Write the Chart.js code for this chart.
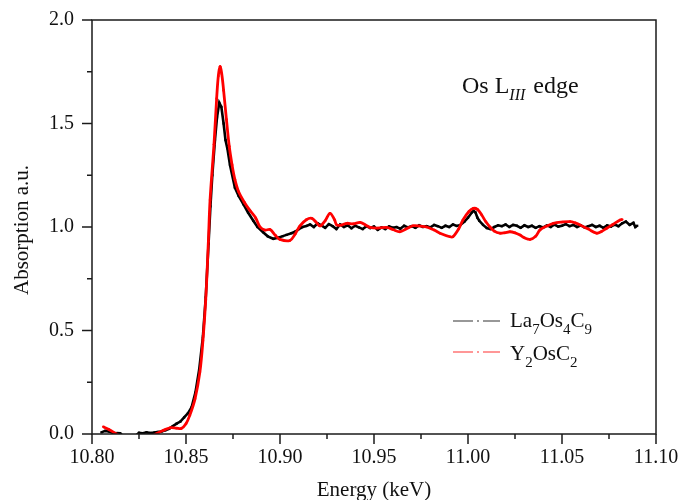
<!DOCTYPE html>
<html><head><meta charset="utf-8">
<script src="https://cdn.jsdelivr.net/npm/chart.js@4.4.1/dist/chart.umd.min.js"></script>
<style>html,body{margin:0;padding:0;background:#fff}canvas{display:block}</style>
</head><body>
<canvas id="c" width="678" height="500"></canvas>
<script>
// ---- data ----
const seriesNames = ["La7Os4C9", "Y2OsC2"];
const xTickValues = [10.80, 10.85, 10.90, 10.95, 11.00, 11.05, 11.10];
const yTickValues = [0.0, 0.5, 1.0, 1.5, 2.0];

const energyLa = [10.805,10.807,10.809,10.811,10.813,10.815,10.8165,10.823,10.825,10.827,10.829,10.831,10.833,10.835,10.837,10.839,10.841,10.843,10.845,10.847,10.849,10.851,10.853,10.855,10.857,10.859,10.8605,10.862,10.863,10.864,10.8654,10.8665,10.8677,10.8688,10.870,10.871,10.872,10.8734,10.876,10.878,10.8805,10.883,10.8858,10.888,10.891,10.8935,10.8964,10.899,10.9015,10.9035,10.906,10.908,10.910,10.912,
10.914,10.916,10.918,10.920,10.922,10.924,10.926,10.928,10.930,10.932,10.934,10.936,10.938,10.940,10.942,10.944,10.946,10.948,10.950,10.952,10.954,10.956,10.958,10.960,10.962,10.964,10.966,10.968,10.970,10.972,10.974,10.976,10.978,10.980,10.982,10.984,10.986,10.988,10.990,10.992,10.994,10.996,10.998,11.000,11.002,11.003,11.004,11.005,11.006,11.008,11.010,11.012,11.014,11.016,11.018,11.020,11.022,11.024,11.026,11.028,11.030,11.032,11.034,11.036,11.038,11.040,11.042,11.044,11.046,11.048,11.050,11.052,11.054,11.056,11.058,11.060,11.062,11.064,11.066,11.068,11.070,11.072,11.074,11.076,11.078,11.080,11.082,11.084,11.086,11.088,11.089,11.090];
const absLa = [0.008,0.015,0.012,0.006,0.004,0.003,-0.01,-0.01,0.006,0.004,0.008,0.005,0.007,0.010,0.012,0.018,0.025,0.038,0.050,0.060,0.080,0.100,0.130,0.200,0.310,0.470,0.660,0.920,1.100,1.250,1.420,1.530,1.600,1.580,1.500,1.420,1.380,1.300,1.190,1.150,1.110,1.070,1.030,1.000,0.975,0.955,0.943,0.948,0.956,0.962,0.970,0.977,0.990,1.000,
1.005,1.012,1.000,1.018,1.008,0.996,1.014,1.004,0.990,1.012,1.000,1.008,0.994,1.006,0.998,0.990,1.004,0.995,1.002,0.986,0.998,0.990,1.003,0.996,1.000,0.992,1.006,0.998,1.004,0.996,1.008,1.000,1.004,0.998,1.010,1.004,0.996,1.006,1.000,1.012,1.005,1.010,1.025,1.045,1.070,1.078,1.070,1.045,1.030,1.010,0.995,0.990,1.000,1.008,1.004,1.012,1.000,1.010,1.006,0.996,1.008,1.000,1.006,0.996,1.004,0.998,1.008,1.000,1.012,1.002,1.006,1.014,1.004,1.010,1.000,1.008,0.998,1.004,1.010,1.000,1.006,0.996,1.008,1.002,1.012,1.004,1.018,1.026,1.010,1.020,1.000,1.006];

const energyY = [10.806,10.809,10.813,10.818,10.824,10.829,10.834,10.838,10.8415,10.845,10.8475,10.850,10.852,10.8548,10.8574,10.859,10.8605,10.8619,10.8628,10.8649,10.8663,10.8672,10.8681,10.869,10.870,10.8715,10.873,10.8745,10.876,10.878,10.881,10.884,10.887,10.8894,10.892,10.8947,10.8975,10.900,10.9053,10.908,10.9106,10.914,10.9169,10.919,10.9213,10.924,10.9266,10.929,10.9302,10.933,10.9355,10.939,10.9426,10.9455,10.9479,10.952,10.9568,10.960,10.9638,10.967,10.9707,10.974,10.978,10.982,10.9851,10.9904,10.992,10.995,10.9973,11.0005,11.0028,11.005,11.0073,11.0095,11.0117,11.014,11.017,11.0195,11.0223,11.025,11.0277,11.030,11.033,11.036,11.0383,11.042,11.0454,11.050,11.0543,11.057,11.0596,11.064,11.0684,11.071,11.0738,11.077,11.0809,11.082];
const absY = [0.035,0.022,0.000,-0.025,-0.035,-0.025,0.000,0.018,0.030,0.028,0.027,0.050,0.090,0.170,0.300,0.450,0.650,0.930,1.130,1.400,1.620,1.730,1.775,1.740,1.660,1.520,1.390,1.300,1.230,1.170,1.120,1.080,1.045,1.000,0.985,0.988,0.960,0.940,0.935,0.965,1.005,1.035,1.042,1.025,1.005,1.030,1.066,1.035,1.010,1.010,1.018,1.015,1.022,1.010,0.998,0.995,0.998,0.988,0.977,0.990,1.006,1.005,1.000,0.985,0.970,0.953,0.953,0.990,1.034,1.075,1.090,1.085,1.058,1.025,1.000,0.980,0.970,0.972,0.977,0.972,0.961,0.948,0.940,0.955,0.986,1.005,1.018,1.024,1.026,1.020,1.010,0.990,0.970,0.978,0.994,1.012,1.034,1.036];

const SERIF = '"Liberation Serif", "DejaVu Serif", serif';

const decor = {
  id: 'decor',
  afterDraw(chart) {
    const ctx = chart.ctx, a = chart.chartArea;
    const xs = chart.scales.x, ys = chart.scales.y;
    ctx.save();
    ctx.strokeStyle = '#1a1a1a';
    ctx.lineWidth = 1.5;
    // frame
    ctx.strokeRect(a.left, a.top, a.right - a.left, a.bottom - a.top);
    // x ticks (major + minor), outward
    for (let i = 0; i <= 12; i++) {
      const v = 10.80 + i * 0.025;
      const px = xs.getPixelForValue(v);
      const len = (i % 2 === 0) ? 10 : 5;
      ctx.beginPath(); ctx.moveTo(px, a.bottom); ctx.lineTo(px, a.bottom + len); ctx.stroke();
    }
    // y ticks
    for (let i = 0; i <= 8; i++) {
      const v = i * 0.25;
      const py = ys.getPixelForValue(v);
      const len = (i % 2 === 0) ? 10 : 5;
      ctx.beginPath(); ctx.moveTo(a.left, py); ctx.lineTo(a.left - len, py); ctx.stroke();
    }
    ctx.fillStyle = '#111';
    // axis titles
    ctx.font = '21px ' + SERIF;
    ctx.textAlign = 'center'; ctx.textBaseline = 'middle';
    ctx.fillText('Energy (keV)', (a.left + a.right) / 2, 490);
    ctx.save();
    ctx.translate(22, 230); ctx.rotate(-Math.PI / 2);
    ctx.fillText('Absorption a.u.', 0, 0);
    ctx.restore();
    // annotation "Os L_III edge"
    ctx.textAlign = 'left'; ctx.textBaseline = 'alphabetic';
    let x = 462;
    ctx.font = '24px ' + SERIF;
    ctx.fillText('Os L', x, 93); x += ctx.measureText('Os L').width;
    ctx.font = 'italic 16px ' + SERIF;
    ctx.fillText('III', x, 100); x += ctx.measureText('III').width + 2;
    ctx.font = '24px ' + SERIF;
    ctx.fillText(' edge', x, 93);
    // legend
    const rows = [
      {color: '#333', lineY: 321, baseY: 327, parts: [['La',0],['7',1],['Os',0],['4',1],['C',0],['9',1]]},
      {color: '#ff3030', lineY: 352, baseY: 360, parts: [['Y',0],['2',1],['OsC',0],['2',1]]}
    ];
    rows.forEach(r => {
      ctx.save();
      ctx.strokeStyle = r.color; ctx.lineWidth = 1.2;
      ctx.setLineDash([20, 4, 2, 4, 20]);
      ctx.beginPath(); ctx.moveTo(453, r.lineY); ctx.lineTo(500, r.lineY); ctx.stroke();
      ctx.restore();
      let tx = 510;
      r.parts.forEach(([t, sub]) => {
        ctx.font = (sub ? '15px ' : '21px ') + SERIF;
        ctx.fillText(t, tx, r.baseY + (sub ? 7 : 0));
        tx += ctx.measureText(t).width;
      });
    });
    ctx.restore();
  }
};

new Chart(document.getElementById('c'), {
  type: 'line',
  data: {
    datasets: [
      {
        label: seriesNames[0],
        data: energyLa.map((e, i) => ({x: e, y: absLa[i]})),
        borderColor: '#000', backgroundColor: '#000',
        borderWidth: 2.6, pointRadius: 1.6, pointStyle: 'rect',
        pointBorderWidth: 0, tension: 0, clip: 0, order: 2
      },
      {
        label: seriesNames[1],
        data: energyY.map((e, i) => ({x: e, y: absY[i]})),
        borderColor: '#ff0000', backgroundColor: '#ff0000',
        borderWidth: 2.8, pointRadius: 1.3, pointBorderWidth: 0,
        tension: 0.35, clip: 0, order: 1
      }
    ]
  },
  options: {
    responsive: false, animation: false, devicePixelRatio: 1,
    layout: {padding: {left: 0, right: 22, top: 20, bottom: 0}},
    plugins: {legend: {display: false}, tooltip: {enabled: false}},
    scales: {
      x: {
        type: 'linear', min: 10.80, max: 11.10,
        afterBuildTicks: s => { s.ticks = xTickValues.map(v => ({value: v})); },
        afterFit: s => { s.height = 66; s.paddingLeft = 0; s.paddingRight = 0; },
        ticks: {font: {family: SERIF, size: 20}, color: '#111', padding: 12,
                callback: v => Number(v).toFixed(2), maxRotation: 0, autoSkip: false},
        grid: {display: false, drawTicks: false},
        border: {display: false}
      },
      y: {
        type: 'linear', min: 0, max: 2,
        afterBuildTicks: s => { s.ticks = yTickValues.map(v => ({value: v})); },
        afterFit: s => { s.width = 92; s.paddingTop = 0; s.paddingBottom = 0; },
        ticks: {font: {family: SERIF, size: 20}, color: '#111', padding: 18,
                callback: v => Number(v).toFixed(1), autoSkip: false},
        grid: {display: false, drawTicks: false},
        border: {display: false}
      }
    }
  },
  plugins: [decor]
});
</script>
</body></html>
